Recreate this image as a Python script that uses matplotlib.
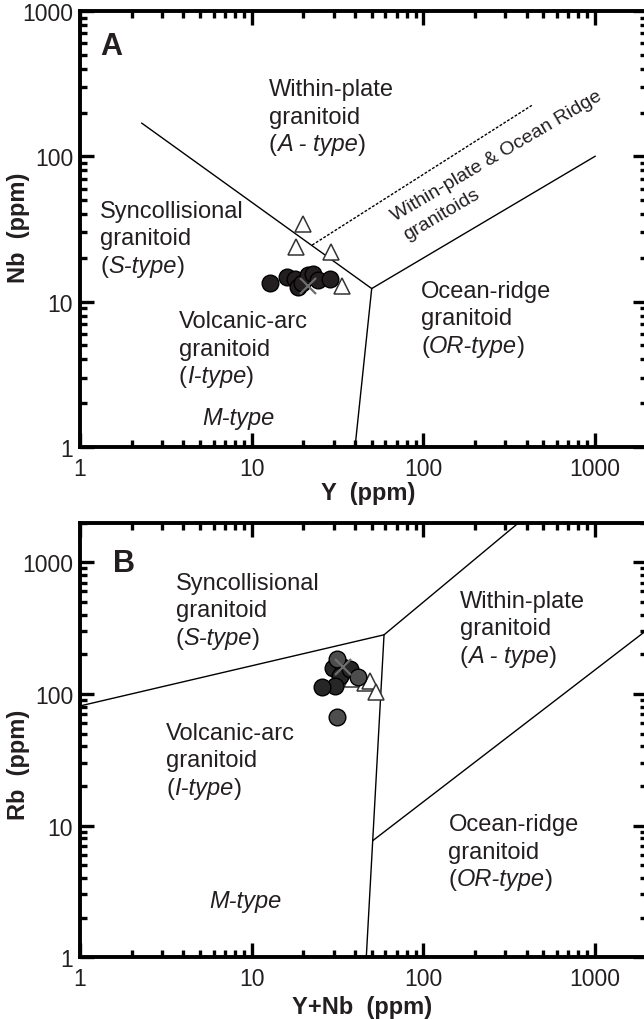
import matplotlib
matplotlib.use('Agg')
import matplotlib.pyplot as plt
from matplotlib.ticker import NullFormatter

plt.rcParams['font.family'] = ['Liberation Sans', 'DejaVu Sans']

INK = '#231f20'

# ---- panel A : Nb vs Y ----
y_a_circ = [12.8, 16.0, 17.9, 18.7, 19.6, 21.2, 22.8, 24.4, 28.6]
nb_a_circ = [13.5, 14.8, 14.2, 12.6, 13.5, 15.2, 15.6, 14.0, 14.2]
y_a_tri = [20.0, 18.0, 28.8, 33.7]
nb_a_tri = [34.1, 23.8, 22.0, 12.9]
y_a_mean = [21.4]
nb_a_mean = [12.9]

# field boundaries (Pearce et al. 1984)
bnd_a1_x = [2.29, 50, 1000]
bnd_a1_y = [169, 12.3, 100]
bnd_a2_x = [50, 40]
bnd_a2_y = [12.3, 1]
bnd_a3_x = [22.5, 428]   # dashed ORG upper limit
bnd_a3_y = [24.5, 224]

# ---- panel B : Rb vs Y+Nb ----
ynb_b_dark = [29.9, 34.2, 32.7, 30.5, 25.6, 37.4]
rb_b_dark = [157, 161, 137, 115, 112, 155]
ynb_b_grey = [31.3, 41.8, 31.3]
rb_b_grey = [184, 134, 67.1]
ynb_b_tri = [38.2, 45.7, 48.9, 52.9]
rb_b_tri = [130, 122, 126, 103]
ynb_b_mean = [34.2]
rb_b_mean = [159]

bnd_b1_x = [1, 59, 360]
bnd_b1_y = [81, 281, 2000]
bnd_b2_x = [59, 46.5]
bnd_b2_y = [281, 1]
bnd_b3_x = [50.8, 2000]
bnd_b3_y = [7.7, 305]

tick_vals = [1, 10, 100, 1000]
tick_labs = ['1', '10', '100', '1000']


def setup(ax, ymax):
    ax.set_xscale('log')
    ax.set_yscale('log')
    ax.set_xlim(1, 2000)
    ax.set_ylim(1, ymax)
    ax.set_xticks(tick_vals, labels=tick_labs)
    ax.set_yticks(tick_vals, labels=tick_labs)
    ax.xaxis.set_minor_formatter(NullFormatter())
    ax.yaxis.set_minor_formatter(NullFormatter())
    for s in ax.spines.values():
        s.set_linewidth(2.8)
    ax.tick_params(which='both', direction='in', top=True, right=True,
                   width=2.4, colors='black', labelcolor=INK, labelsize=16.5)
    ax.tick_params(which='major', length=10)
    ax.tick_params(which='minor', length=5)
    ax.tick_params(axis='x', pad=7)
    ax.tick_params(axis='y', pad=5)


def field(ax, x, y, lines, italic=None, size=17, pitch=19.8):
    for i, s in enumerate(lines):
        ax.annotate(s, xy=(x, y), xycoords='axes fraction',
                    xytext=(0, -i * pitch), textcoords='offset points',
                    ha='left', va='baseline', fontsize=size, color=INK)
    if italic is not None:
        n = len(lines)
        p = ax.annotate('(', xy=(x, y), xycoords='axes fraction',
                        xytext=(0, -n * pitch), textcoords='offset points',
                        ha='left', va='baseline', fontsize=size, color=INK)
        q = ax.annotate(italic, xy=(1, 0), xycoords=p, ha='left', va='bottom',
                        fontsize=size, style='italic', color=INK)
        ax.annotate(')', xy=(1, 0), xycoords=q, ha='left', va='bottom',
                    fontsize=size, color=INK)


fig = plt.figure(figsize=(6.44, 10.2), dpi=100)
axA = fig.add_axes([0.1242, 0.5608, 0.8801, 0.4275])
axB = fig.add_axes([0.1242, 0.0605, 0.8801, 0.4262])

# panel A
setup(axA, 1000)
axA.plot(bnd_a1_x, bnd_a1_y, color='black', lw=1.0)
axA.plot(bnd_a2_x, bnd_a2_y, color='black', lw=1.0)
axA.plot(bnd_a3_x, bnd_a3_y, color='black', lw=1.0, ls=(0, (2, 1.2)))
axA.plot(y_a_tri, nb_a_tri, ls='', marker='^', ms=12, mfc='white', mec='#333333', mew=1.1)
axA.plot(y_a_circ, nb_a_circ, ls='', marker='o', ms=12, mfc=INK, mec='black', mew=1.0)
axA.plot(y_a_mean, nb_a_mean, ls='', marker='x', ms=11, mec='#6e6e6e', mew=1.6)

axA.text(0.036, 0.901, 'A', transform=axA.transAxes, fontsize=22, fontweight='bold', color=INK)
field(axA, 0.333, 0.807, ['Within-plate', 'granitoid'], 'A - type')
field(axA, 0.036, 0.528, ['Syncollisional', 'granitoid'], 'S-type')
field(axA, 0.174, 0.275, ['Volcanic-arc', 'granitoid'], 'I-type')
field(axA, 0.602, 0.344, ['Ocean-ridge', 'granitoid'], 'OR-type')
axA.text(0.215, 0.053, 'M-type', transform=axA.transAxes, fontsize=17,
         style='italic', color=INK, va='baseline')
axA.text(0.746, 0.647, 'Within-plate & Ocean Ridge\ngranitoids', transform=axA.transAxes,
         fontsize=14, color=INK, rotation=30.5, rotation_mode='anchor',
         ha='center', va='center', multialignment='left', linespacing=1.45)

axA.set_ylabel('Nb  (ppm)', fontsize=17, fontweight='bold', color=INK)
axA.yaxis.set_label_coords(-0.088, 0.505)
axA.set_xlabel('Y  (ppm)', fontsize=17, fontweight='bold', color=INK)
axA.xaxis.set_label_coords(0.508, -0.078)

# panel B
setup(axB, 2000)
axB.plot(bnd_b1_x, bnd_b1_y, color='black', lw=1.0)
axB.plot(bnd_b2_x, bnd_b2_y, color='black', lw=1.0)
axB.plot(bnd_b3_x, bnd_b3_y, color='black', lw=1.0)
axB.plot(ynb_b_tri, rb_b_tri, ls='', marker='^', ms=12, mfc='white', mec='#333333', mew=1.1)
axB.plot(ynb_b_dark, rb_b_dark, ls='', marker='o', ms=12, mfc='#262626', mec='black', mew=1.0)
axB.plot(ynb_b_grey, rb_b_grey, ls='', marker='o', ms=12, mfc='#4d4d4d', mec='black', mew=1.0)
axB.plot(ynb_b_mean, rb_b_mean, ls='', marker='x', ms=11, mec='#6e6e6e', mew=1.6)

axB.text(0.058, 0.889, 'B', transform=axB.transAxes, fontsize=22, fontweight='bold', color=INK)
field(axB, 0.169, 0.848, ['Syncollisional', 'granitoid'], 'S-type')
field(axB, 0.670, 0.806, ['Within-plate', 'granitoid'], 'A - type')
field(axB, 0.152, 0.503, ['Volcanic-arc', 'granitoid'], 'I-type')
field(axB, 0.650, 0.292, ['Ocean-ridge', 'granitoid'], 'OR-type')
axB.text(0.228, 0.116, 'M-type', transform=axB.transAxes, fontsize=17,
         style='italic', color=INK, va='baseline')

axB.set_ylabel('Rb  (ppm)', fontsize=17, fontweight='bold', color=INK)
axB.yaxis.set_label_coords(-0.088, 0.445)
axB.set_xlabel('Y+Nb  (ppm)', fontsize=17, fontweight='bold', color=INK)
axB.xaxis.set_label_coords(0.498, -0.087)

fig.savefig('out.png', dpi=100)
